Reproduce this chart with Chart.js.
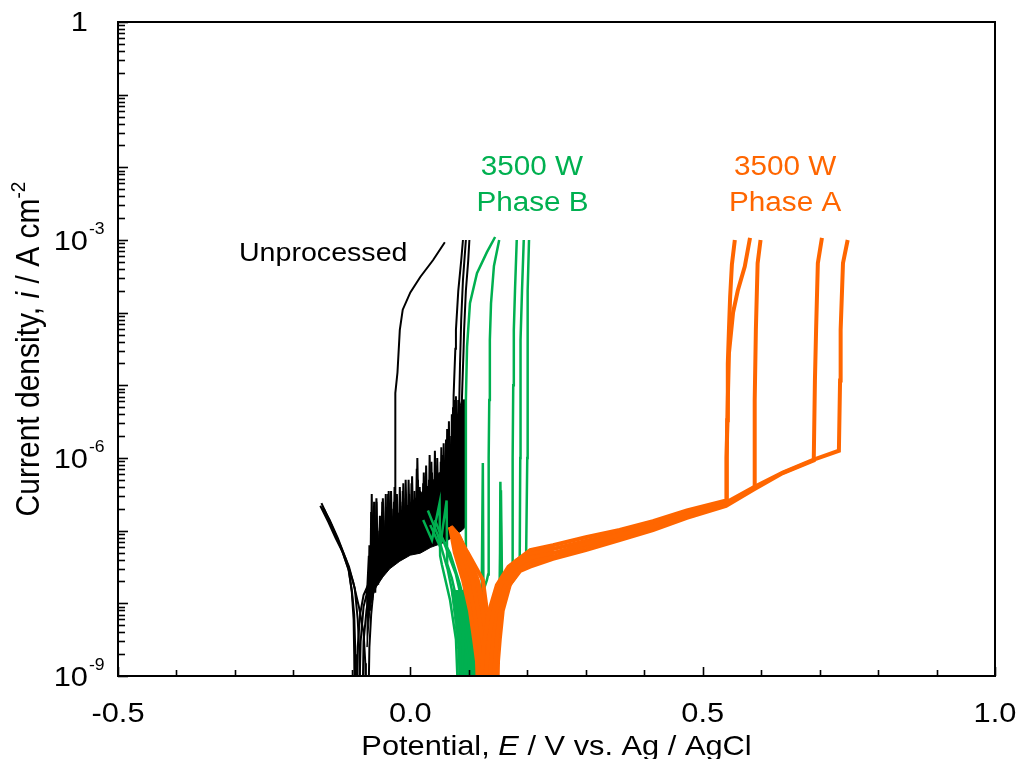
<!DOCTYPE html>
<html>
<head>
<meta charset="utf-8">
<script src="https://cdn.jsdelivr.net/npm/chart.js@4.4.1/dist/chart.umd.min.js"></script>
<style>
html, body { margin: 0; padding: 0; background: #fff; }
#wrap { width: 1016px; height: 759px; }
</style>
</head>
<body>
<div id="wrap"><canvas id="chart" width="1016" height="759"></canvas></div>
<script>
// polarisation curves, [E (V vs Ag/AgCl), i (A cm-2)]
const unprocessed1 = [[-0.154,2.2e-7],[-0.140,1.3e-7],[-0.128,8e-8],[-0.115,4.9e-8],[-0.105,2.8e-8],[-0.100,1.4e-8],[-0.097,6e-9],[-0.096,2e-9],[-0.095,3e-10],
  [-0.092,3e-10],[-0.090,2.5e-9],[-0.086,7e-9],[-0.080,1.3e-8],[-0.075,1.6e-8],
  [-0.072,6.3e-9],[-0.070,6.3e-8],[-0.068,1.0e-8],[-0.066,3.2e-7],[-0.064,1.26e-8],[-0.062,7.9e-8],[-0.059,1.8e-8],[-0.057,1.26e-7],[-0.054,2.2e-8],[-0.052,1.1e-7],
  [-0.049,2.5e-8],[-0.047,2.8e-7],[-0.044,2.8e-8],[-0.042,1.4e-7],[-0.039,3.2e-8],[-0.037,3.5e-7],[-0.034,3.3e-8],[-0.032,1.6e-7],[-0.029,3.5e-8],[-0.027,1.8e-7],[-0.026,4.0e-8],
  [-0.026,4.5e-7],[-0.026,2.0e-6],[-0.025,7.8e-6],[-0.022,1.5e-5],[-0.018,5.8e-5],[-0.013,1.1e-4],[0.000,1.9e-4],[0.017,3.1e-4],[0.039,5.3e-4],[0.059,9.3e-4]];
const unprocessed2 = [[-0.148,2.0e-7],[-0.135,1.2e-7],[-0.120,6.3e-8],[-0.105,3.2e-8],[-0.095,1.6e-8],[-0.090,6e-9],[-0.087,2e-9],[-0.086,3e-10],
  [-0.082,3e-10],[-0.080,3e-9],[-0.075,8e-9],[-0.071,1.3e-8],
  [-0.069,7.9e-9],[-0.067,5.0e-8],[-0.065,1.1e-8],[-0.063,1.26e-7],[-0.061,1.6e-8],[-0.058,2.5e-7],[-0.056,2.0e-8],[-0.053,1.0e-7],[-0.051,2.2e-8],[-0.048,1.8e-7],
  [-0.046,2.5e-8],[-0.043,1.1e-7],[-0.040,2.8e-8],[-0.038,3.2e-7],[-0.035,3.2e-8],[-0.033,1.6e-7],[-0.030,3.5e-8],[-0.028,2.5e-7],[-0.025,3.7e-8],[-0.023,1.8e-7],
  [-0.020,4.0e-8],[-0.018,4.0e-7],[-0.015,4.0e-8],[-0.013,2.2e-7],[-0.010,4.3e-8],[-0.008,2.8e-7],[-0.005,4.5e-8],[-0.003,5.0e-7],[0.000,4.7e-8],[0.002,2.5e-7],
  [0.005,5.0e-8],[0.007,3.5e-7],[0.010,5.0e-8],[0.012,1.0e-6],[0.015,5.2e-8],[0.017,3.5e-7],[0.020,5.4e-8],[0.022,4.5e-7],[0.025,5.6e-8],[0.027,7.9e-7],
  [0.030,5.8e-8],[0.032,5.0e-7],[0.035,6.3e-8],[0.037,6.3e-7],[0.040,6.6e-8],[0.042,1.26e-6],[0.045,7.1e-8],[0.047,6.3e-7],[0.050,7.4e-8],[0.052,8.9e-7],
  [0.055,7.9e-8],[0.057,1.6e-6],[0.060,8.3e-8],[0.062,1.1e-6],[0.064,8.7e-8],[0.066,3.2e-6],[0.068,9.1e-8],[0.070,2.0e-6],[0.072,9.3e-8],[0.074,7.1e-6],
  [0.075,1.2e-5],[0.077,3.2e-5],[0.078,5.8e-5],[0.082,2.0e-4],[0.087,5.2e-4],[0.090,1.0e-3]];
const unprocessed3 = [[-0.150,2.1e-7],[-0.138,1.4e-7],[-0.124,7.9e-8],[-0.110,4.0e-8],[-0.098,2.0e-8],[-0.088,9e-9],[-0.080,4e-9],[-0.077,1.5e-9],[-0.076,3e-10],
  [-0.072,3e-10],[-0.070,2.5e-9],[-0.067,7e-9],
  [-0.064,1.26e-8],[-0.062,2.5e-7],[-0.060,1.4e-8],[-0.057,8.9e-8],[-0.055,1.8e-8],[-0.052,1.6e-7],[-0.050,2.2e-8],[-0.047,1.0e-7],[-0.045,2.5e-8],[-0.042,3.2e-7],
  [-0.040,2.8e-8],[-0.037,1.26e-7],[-0.034,3.2e-8],[-0.032,2.0e-7],[-0.029,3.5e-8],[-0.027,4.0e-7],[-0.024,3.7e-8],[-0.022,1.6e-7],[-0.019,4.0e-8],[-0.017,2.5e-7],
  [-0.014,4.1e-8],[-0.012,4.5e-7],[-0.009,4.3e-8],[-0.007,2.0e-7],[-0.004,4.5e-8],[-0.002,3.2e-7],[0.001,4.7e-8],[0.003,5.6e-7],[0.006,4.9e-8],[0.008,2.8e-7],
  [0.011,5.0e-8],[0.013,5.0e-7],[0.016,5.2e-8],[0.018,2.8e-7],[0.021,5.4e-8],[0.023,6.3e-7],[0.026,5.6e-8],[0.028,4.0e-7],[0.031,5.9e-8],[0.033,1.1e-6],
  [0.036,6.3e-8],[0.038,4.5e-7],[0.041,6.8e-8],[0.043,7.9e-7],[0.046,7.2e-8],[0.048,5.0e-7],[0.051,7.6e-8],[0.053,1.4e-6],[0.056,7.9e-8],[0.058,7.9e-7],
  [0.061,8.5e-8],[0.063,2.5e-6],[0.066,8.9e-8],[0.068,1.26e-6],[0.071,9.5e-8],[0.073,5.0e-6],[0.076,1.0e-7],[0.078,7.1e-6],[0.080,1.05e-7],[0.082,6.3e-6],
  [0.084,1.1e-7],[0.086,5.0e-6],[0.087,1.1e-7],[0.088,5.6e-6],
  [0.089,1.0e-5],[0.091,3.0e-5],[0.092,5.8e-5],[0.095,2.0e-4],[0.099,5.2e-4],[0.101,1.0e-3]];
const unprocessed4 = [[-0.152,2.4e-7],[-0.137,1.3e-7],[-0.118,5.6e-8],[-0.106,3e-8],[-0.100,1.5e-8],[-0.096,7e-9],[-0.094,2e-9],[-0.093,3e-10],
  [-0.088,3e-10],[-0.085,3e-9],[-0.080,9e-9],[-0.074,1.4e-8],
  [-0.071,4.5e-8],[-0.069,8.9e-9],[-0.067,1.8e-7],[-0.065,1.26e-8],[-0.063,6.3e-8],[-0.060,1.6e-8],[-0.058,2.8e-7],[-0.055,2.0e-8],[-0.053,7.9e-8],[-0.050,2.4e-8],
  [-0.048,2.5e-7],[-0.045,2.6e-8],[-0.043,1.0e-7],[-0.040,3.0e-8],[-0.038,2.0e-7],[-0.035,3.2e-8],[-0.033,3.5e-7],[-0.030,3.4e-8],[-0.028,1.26e-7],[-0.025,3.6e-8],
  [-0.023,3.2e-7],[-0.020,3.9e-8],[-0.018,1.8e-7],[-0.015,4.1e-8],[-0.013,3.5e-7],[-0.010,4.3e-8],[-0.008,5.0e-7],[-0.005,4.5e-8],[-0.003,2.2e-7],[0.000,4.7e-8],
  [0.002,4.5e-7],[0.004,4.8e-8],[0.006,2.5e-7],[0.009,5.0e-8],[0.011,7.1e-7],[0.014,5.1e-8],[0.016,4.0e-7],[0.019,5.4e-8],[0.021,3.2e-7],[0.024,5.5e-8],
  [0.026,5.6e-7],[0.029,5.8e-8],[0.031,3.5e-7],[0.034,6.2e-8],[0.036,8.9e-7],[0.039,6.5e-8],[0.041,5.0e-7],[0.044,6.9e-8],[0.046,1.0e-6],[0.049,7.2e-8],
  [0.051,6.3e-7],[0.054,7.8e-8],[0.056,1.1e-6],[0.059,8.1e-8],[0.061,1.8e-6],[0.064,8.7e-8],[0.066,1.4e-6],[0.069,9.3e-8],[0.071,4.0e-6],[0.074,1.0e-7],
  [0.076,6.3e-6],[0.078,1.0e-7],[0.080,4.0e-6],[0.082,1.07e-7],
  [0.083,3.3e-6],[0.085,2.0e-5],[0.087,8.0e-5],[0.090,2.8e-4],[0.095,1.0e-3]];
// dense noise band under the unprocessed spikes
const unprocessedNoiseE = [-0.074,-0.069,-0.060,-0.047,-0.035,-0.018,0.000,0.017,0.035,0.056,0.070,0.078,0.088,0.094];
const unprocessedNoiseTop = [1.0e-8,3.5e-8,6.3e-8,8.9e-8,1.26e-7,1.8e-7,2.4e-7,3.2e-7,4.5e-7,7.1e-7,1.26e-6,3.2e-6,6.3e-6,6.3e-6];
const unprocessedNoiseBottom = [2.5e-9,8.9e-9,1.6e-8,2.3e-8,3.0e-8,3.8e-8,4.6e-8,4.9e-8,5.9e-8,6.8e-8,7.9e-8,8.9e-8,1.0e-7,1.12e-7];

const phaseB1 = [[0.022,1.4e-7],[0.037,7.4e-8],[0.050,2.4e-7],[0.051,4.5e-8],[0.054,3.4e-8],[0.068,1.1e-8],[0.078,3.2e-9],[0.083,3e-10],
  [0.087,3e-10],[0.090,2.5e-9],[0.092,1.5e-8],[0.094,4.9e-8],[0.095,1.0e-6],[0.095,6.3e-6],[0.097,3.4e-5],[0.102,1.35e-4],[0.114,3.5e-4],[0.131,6.8e-4],[0.145,1.1e-3]];
const phaseB2 = [[0.030,1.9e-7],[0.047,8.7e-8],[0.064,2.9e-8],[0.078,8.1e-9],[0.090,2.3e-9],[0.095,3e-10],
  [0.102,3e-10],[0.110,2.7e-9],[0.118,8e-9],[0.122,1.3e-8],[0.124,8.5e-7],[0.125,1.5e-8],[0.131,2.1e-8],[0.133,2.5e-8],
  [0.134,1.0e-6],[0.135,6.3e-6],[0.136,4.2e-5],[0.138,1.35e-4],[0.143,4.4e-4],[0.152,1.0e-3]];
const phaseB3 = [[0.034,1.2e-7],[0.051,6e-8],[0.062,2.6e-7],[0.063,3.5e-8],[0.071,2.2e-8],[0.087,6e-9],[0.099,1.8e-9],[0.104,3e-10],
  [0.110,3e-10],[0.116,2.3e-9],[0.128,5e-9],[0.145,9e-9],[0.153,1.2e-8],[0.154,4.7e-7],[0.156,1.3e-8],[0.166,1.7e-8],[0.174,2.9e-8],
  [0.175,1.0e-6],[0.176,1.0e-5],[0.177,5.8e-5],[0.179,2.0e-4],[0.182,1.0e-3]];
const phaseB4 = [[0.042,1.4e-7],[0.061,5.8e-8],[0.078,2.5e-8],[0.092,8e-9],[0.105,2.5e-9],[0.110,3e-10],
  [0.114,3e-10],[0.119,2.3e-9],[0.133,6e-9],[0.153,1.3e-8],[0.155,3.6e-7],[0.157,1.4e-8],[0.174,2.0e-8],[0.187,2.8e-8],
  [0.188,1.0e-6],[0.188,1.2e-5],[0.189,4.2e-5],[0.191,2.0e-4],[0.194,1.0e-3]];
const phaseB5 = [[0.051,9e-8],[0.068,4.9e-8],[0.085,1.8e-8],[0.099,6e-9],[0.110,1.8e-9],[0.116,3e-10],
  [0.119,3e-10],[0.126,2.7e-9],[0.140,8e-9],[0.162,1.5e-8],[0.179,2.2e-8],[0.198,4.3e-8],
  [0.200,1.0e-6],[0.200,1.2e-5],[0.201,5.8e-5],[0.201,2.0e-4],[0.203,1.0e-3]];
// dense bottom of the phase B curves (outline)
const phaseBBand = [[0.070,1.5e-8],[0.076,5.9e-9],[0.081,2.3e-9],[0.083,5e-10],[0.117,5e-10],[0.112,2.3e-9],[0.104,5.9e-9],[0.092,1.5e-8]];

const phaseA1 = [[0.068,1.12e-7],[0.076,5.0e-8],[0.090,2.1e-8],[0.102,7.9e-9],[0.109,3.2e-9],[0.114,1.6e-9],[0.117,3.2e-10],
  [0.120,3.2e-10],[0.123,1.6e-9],[0.127,3.2e-9],[0.135,7.9e-9],[0.148,1.78e-8],[0.168,3.2e-8],[0.205,5.4e-8],[0.244,6.3e-8],[0.300,8.1e-8],[0.358,1.02e-7],[0.415,1.35e-7],[0.473,1.9e-7],[0.540,2.6e-7],
  [0.541,1.0e-6],[0.542,3.3e-6],[0.543,2.0e-5],[0.545,6.0e-5],[0.547,1.66e-4],[0.550,4.6e-4],[0.555,1.0e-3]];
const phaseA2 = [[0.068,1.12e-7],[0.081,5.0e-8],[0.098,2.1e-8],[0.109,7.9e-9],[0.116,3.2e-9],[0.122,1.6e-9],[0.125,3.2e-10],
  [0.128,3.2e-10],[0.131,1.6e-9],[0.135,3.2e-9],[0.142,7.9e-9],[0.155,1.78e-8],[0.175,3.0e-8],[0.205,4.2e-8],[0.244,4.9e-8],[0.300,6.6e-8],[0.358,8.7e-8],[0.415,1.15e-7],[0.473,1.7e-7],[0.540,2.4e-7],
  [0.541,1.0e-6],[0.543,6.3e-6],[0.545,2.8e-5],[0.552,1.0e-4],[0.560,2.0e-4],[0.572,4.3e-4],[0.581,1.07e-3]];
const phaseA3 = [[0.068,1.12e-7],[0.087,5.0e-8],[0.106,2.1e-8],[0.116,7.9e-9],[0.123,3.2e-9],[0.129,1.6e-9],[0.132,3.2e-10],
  [0.135,3.2e-10],[0.138,1.6e-9],[0.141,3.2e-9],[0.147,7.9e-9],[0.160,1.66e-8],[0.182,2.8e-8],[0.205,3.7e-8],[0.244,4.4e-8],[0.300,6.0e-8],[0.358,7.9e-8],[0.415,1.1e-7],[0.473,1.6e-7],[0.540,2.3e-7],[0.588,3.9e-7],
  [0.589,6.3e-6],[0.591,5.8e-5],[0.594,4.8e-4],[0.599,1.0e-3]];
const phaseA4 = [[0.068,1.12e-7],[0.092,5.0e-8],[0.115,2.1e-8],[0.124,7.9e-9],[0.130,3.2e-9],[0.136,1.6e-9],[0.139,3.2e-10],
  [0.142,3.2e-10],[0.145,1.6e-9],[0.148,3.2e-9],[0.153,7.9e-9],[0.165,1.6e-8],[0.188,2.8e-8],[0.205,3.2e-8],[0.244,4.1e-8],[0.300,5.4e-8],[0.358,7.4e-8],[0.415,1.02e-7],[0.473,1.5e-7],[0.540,2.2e-7],[0.588,3.7e-7],[0.637,6.2e-7],[0.690,9.3e-7],
  [0.692,1.17e-5],[0.694,5.8e-5],[0.697,4.8e-4],[0.704,1.07e-3]];
const phaseA5 = [[0.068,1.12e-7],[0.098,5.0e-8],[0.124,2.1e-8],[0.131,7.9e-9],[0.136,3.2e-9],[0.142,1.6e-9],[0.145,3.2e-10],
  [0.148,3.2e-10],[0.150,1.6e-9],[0.153,3.2e-9],[0.158,7.9e-9],[0.170,1.78e-8],[0.200,4.8e-8],[0.244,5.6e-8],[0.300,7.2e-8],[0.358,9.3e-8],[0.415,1.23e-7],[0.473,1.8e-7],[0.540,2.45e-7],[0.588,4.0e-7],[0.637,6.3e-7],[0.690,9.5e-7],[0.733,1.26e-6],
  [0.735,1.17e-5],[0.736,5.8e-5],[0.740,4.8e-4],[0.748,1.0e-3]];
// dense V around the phase A corrosion potential (outline)
const phaseABand = [[0.068,1.12e-7],[0.076,6.3e-8],[0.090,2.1e-8],[0.102,8.1e-9],[0.109,3.2e-9],[0.114,1.66e-9],[0.117,5e-10],
  [0.148,5e-10],[0.150,2.3e-9],[0.155,5.9e-9],[0.162,1.12e-8],[0.170,1.78e-8],[0.184,2.7e-8],[0.205,3.4e-8],[0.244,4.1e-8],
  [0.244,6.3e-8],[0.205,5.4e-8],[0.179,4.0e-8],[0.162,2.8e-8],[0.150,1.78e-8],[0.140,1.0e-8],[0.133,7.9e-9],
  [0.125,1.26e-8],[0.115,2.5e-8],[0.100,5.0e-8],[0.085,8.9e-8],[0.072,1.17e-7]];

// axes
const xMinorTicks = [-0.5,-0.4,-0.3,-0.2,-0.1,0.0,0.1,0.2,0.3,0.4,0.5,0.6,0.7,0.8,0.9,1.0];
const xMajorTicks = [-0.5, 0.0, 0.5, 1.0];
const xTickLabels = ['-0.5', '0.0', '0.5', '1.0'];
const yMajorTicks = [1e-9, 1e-6, 1e-3, 1];
const yTickExponents = ['-9', '-6', '-3', null];

const GREEN = '#00B050';
const ORANGE = '#FF6600';
const SX = 1.1; // the figure is slightly wider than its fonts

function series(points, color, width) {
  return {
    data: points.map(p => ({ x: p[0], y: p[1] })),
    borderColor: color,
    borderWidth: width,
    showLine: true,
    pointRadius: 0,
    tension: 0,
    fill: false
  };
}

// closed outline filled with one colour
function band(points, color) {
  return {
    data: points.concat([points[0]]).map(p => ({ x: p[0], y: p[1] })),
    borderColor: color,
    backgroundColor: color,
    borderWidth: 1,
    showLine: true,
    pointRadius: 0,
    tension: 0,
    fill: 'shape'
  };
}

// draws text pieces (normal / italic / superscript), horizontal stretch SX
function richText(ctx, parts, x, y, size, align) {
  const fontOf = p => (p.italic ? 'italic ' : '') + Math.round(p.sup ? size * 0.62 : size) + 'px "Liberation Sans", Arial, sans-serif';
  let total = 0;
  parts.forEach(p => { ctx.font = fontOf(p); total += ctx.measureText(p.t).width; });
  let cx = align === 'center' ? -total / 2 : align === 'right' ? -total : 0;
  ctx.save();
  ctx.translate(x, y);
  ctx.scale(SX, 1);
  ctx.textAlign = 'left';
  parts.forEach(p => {
    ctx.font = fontOf(p);
    ctx.fillText(p.t, cx, p.sup ? -size * 0.42 : 0);
    cx += ctx.measureText(p.t).width;
  });
  ctx.restore();
}

const axisDecor = {
  id: 'axisDecor',
  afterDraw(chart) {
    const { ctx, chartArea: a, scales: { x, y } } = chart;
    ctx.save();
    ctx.strokeStyle = '#000';
    ctx.fillStyle = '#000';
    ctx.lineWidth = 2;
    ctx.strokeRect(a.left, a.top, a.right - a.left, a.bottom - a.top);

    // x ticks point inwards
    ctx.lineWidth = 1.6;
    xMinorTicks.forEach(v => {
      const px = Math.round(x.getPixelForValue(v)) + 0.5;
      const len = xMajorTicks.some(m => Math.abs(m - v) < 1e-9) ? 9 : 6;
      ctx.beginPath(); ctx.moveTo(px, a.bottom); ctx.lineTo(px, a.bottom - len); ctx.stroke();
    });
    // y ticks, decades + 2..9
    for (let e = -9; e <= 0; e++) {
      for (let k = 1; k <= 9; k++) {
        if (e === 0 && k > 1) break;
        const py = Math.round(y.getPixelForValue(k * Math.pow(10, e))) + 0.5;
        const len = k === 1 ? 10 : 7;
        ctx.beginPath(); ctx.moveTo(a.left, py); ctx.lineTo(a.left + len, py); ctx.stroke();
      }
    }

    // tick labels
    ctx.textBaseline = 'middle';
    xMajorTicks.forEach((v, i) => {
      richText(ctx, [{ t: xTickLabels[i] }], x.getPixelForValue(v), a.bottom + 38, 28, 'center');
    });
    yMajorTicks.forEach((v, i) => {
      const py = y.getPixelForValue(v);
      const lx = a.left - 30;
      if (yTickExponents[i] === null) {
        richText(ctx, [{ t: '1' }], lx, py + 1, 28, 'right');
      } else {
        richText(ctx, [{ t: '10' }], lx, py + 2, 28, 'right');
        richText(ctx, [{ t: yTickExponents[i], sup: true }], lx + 1, py + 1, 26, 'left');
      }
    });

    // axis titles
    ctx.textBaseline = 'alphabetic';
    richText(ctx, [{ t: 'Potential, ' }, { t: 'E', italic: true }, { t: ' / V vs. Ag / AgCl' }],
      (a.left + a.right) / 2, 755, 28, 'center');
    ctx.save();
    ctx.translate(39, (a.top + a.bottom) / 2);
    ctx.rotate(-Math.PI / 2);
    // rotated: the stretch is across the text, not along it
    ctx.scale(1 / SX, SX);
    richText(ctx, [{ t: 'Current density, ' }, { t: 'i', italic: true }, { t: ' / A cm' }, { t: '-2', sup: true }],
      0, 0, 30, 'center');
    ctx.restore();

    // curve labels
    ctx.textBaseline = 'middle';
    ctx.fillStyle = '#000';
    richText(ctx, [{ t: 'Unprocessed' }], x.getPixelForValue(-0.149), y.getPixelForValue(6.5e-4), 26, 'center');
    ctx.fillStyle = GREEN;
    richText(ctx, [{ t: '3500 W' }], x.getPixelForValue(0.208), y.getPixelForValue(9.8e-3), 27, 'center');
    richText(ctx, [{ t: 'Phase B' }], x.getPixelForValue(0.209), y.getPixelForValue(3.2e-3), 27, 'center');
    ctx.fillStyle = ORANGE;
    richText(ctx, [{ t: '3500 W' }], x.getPixelForValue(0.641), y.getPixelForValue(9.8e-3), 27, 'center');
    richText(ctx, [{ t: 'Phase A' }], x.getPixelForValue(0.641), y.getPixelForValue(3.2e-3), 27, 'center');
    ctx.restore();
  }
};

const unprocessedNoise = unprocessedNoiseE.map((e, i) => [e, unprocessedNoiseTop[i]])
  .concat(unprocessedNoiseE.map((e, i) => [e, unprocessedNoiseBottom[i]]).reverse());

// first dataset is drawn on top
const datasets = [
  series(phaseA1, ORANGE, 4), series(phaseA2, ORANGE, 4), series(phaseA3, ORANGE, 4),
  series(phaseA4, ORANGE, 4), series(phaseA5, ORANGE, 4), band(phaseABand, ORANGE),
  series(phaseB1, GREEN, 2.5), series(phaseB2, GREEN, 2.5), series(phaseB3, GREEN, 2.5),
  series(phaseB4, GREEN, 2.5), series(phaseB5, GREEN, 2.5), band(phaseBBand, GREEN),
  series(unprocessed1, '#000', 2), series(unprocessed2, '#000', 2),
  series(unprocessed3, '#000', 2), series(unprocessed4, '#000', 2), band(unprocessedNoise, '#000')
];

new Chart(document.getElementById('chart'), {
  type: 'scatter',
  data: { datasets: datasets },
  options: {
    responsive: false,
    animation: false,
    devicePixelRatio: 1,
    layout: { padding: { left: 118, top: 22, right: 21, bottom: 83 } },
    plugins: { legend: { display: false }, tooltip: { enabled: false } },
    scales: {
      x: { type: 'linear', min: -0.5, max: 1.0, display: false },
      y: { type: 'logarithmic', min: 1e-9, max: 1, display: false }
    }
  },
  plugins: [axisDecor]
});
</script>
</body>
</html>
